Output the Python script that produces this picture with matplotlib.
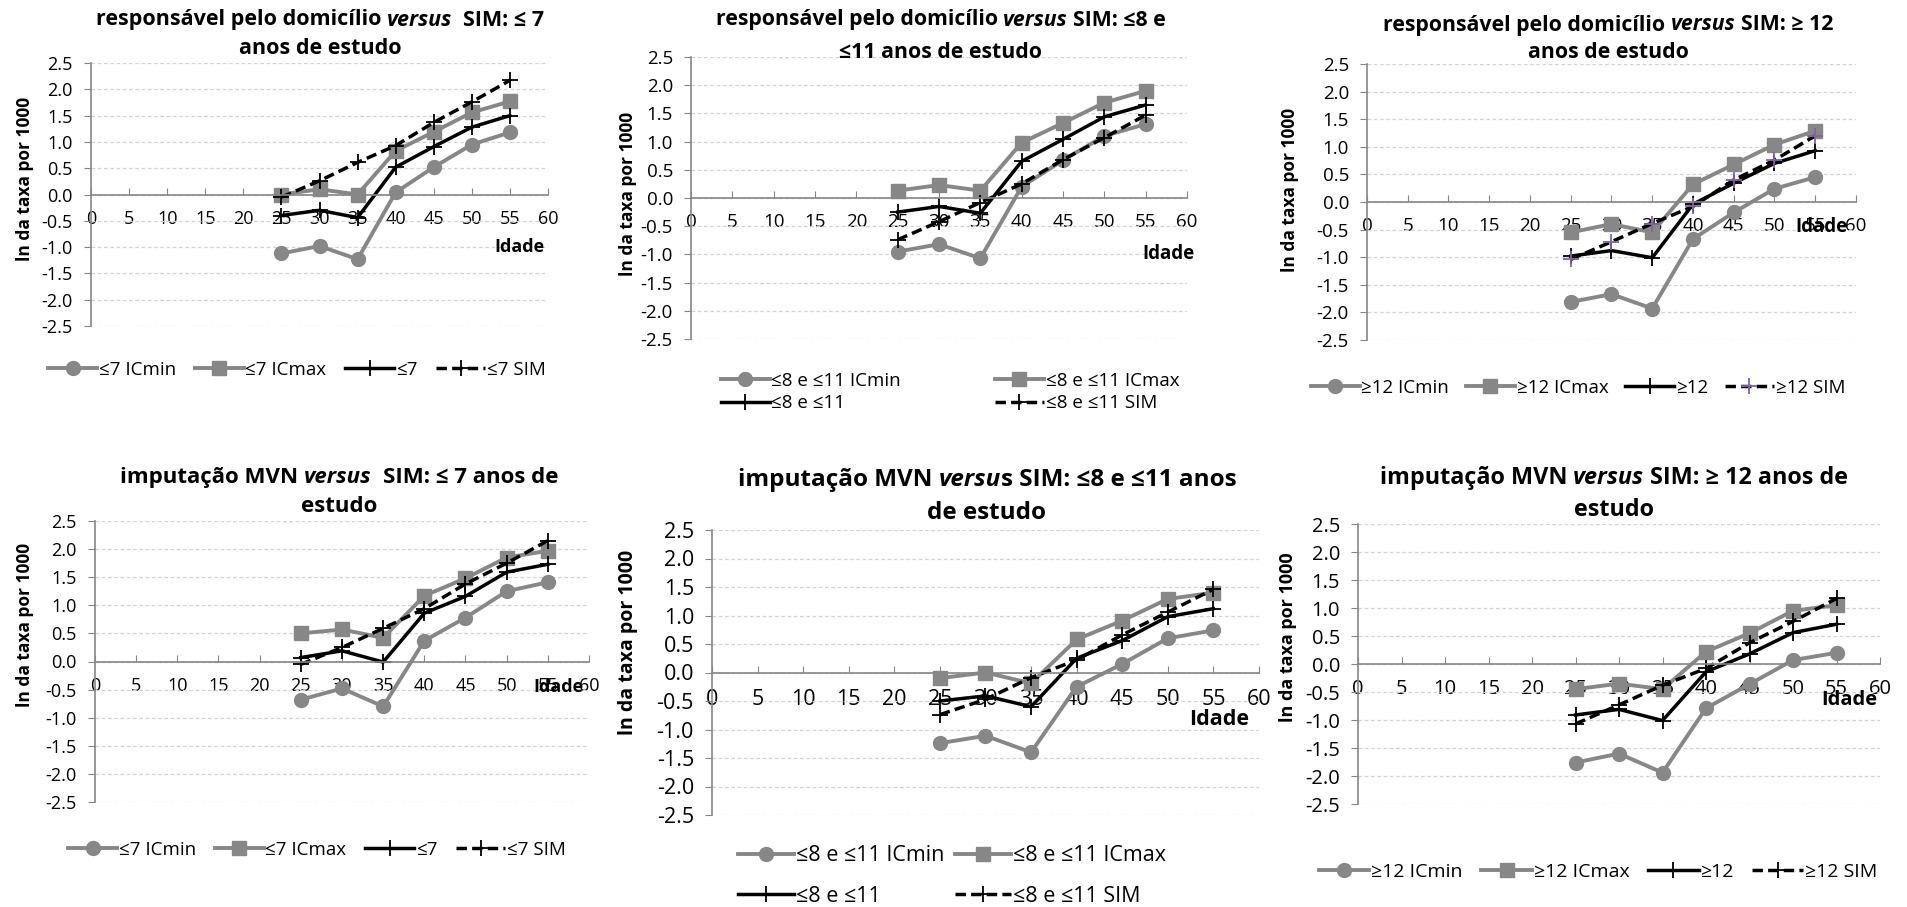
import numpy as np
import matplotlib
matplotlib.use("Agg")
import matplotlib.pyplot as plt
from matplotlib.ticker import FormatStrFormatter

plt.rcParams['font.family'] = ['Open Sans', 'DejaVu Sans']
plt.rcParams['axes.unicode_minus'] = False

W, H = 1908, 907

idade = [25, 30, 35, 40, 45, 50, 55]

# responsável pelo domicílio versus SIM
resp7_min = [-1.12, -0.98, -1.23, 0.04, 0.52, 0.95, 1.18]
resp7_max = [0.00, 0.10, 0.00, 0.83, 1.19, 1.56, 1.77]
resp7_est = [-0.40, -0.30, -0.44, 0.52, 0.91, 1.28, 1.50]
resp7_sim = [-0.05, 0.26, 0.61, 0.93, 1.37, 1.76, 2.17]

resp811_min = [-0.95, -0.82, -1.07, 0.20, 0.67, 1.10, 1.31]
resp811_max = [0.13, 0.23, 0.13, 0.98, 1.33, 1.69, 1.90]
resp811_est = [-0.25, -0.15, -0.27, 0.65, 1.04, 1.44, 1.65]
resp811_sim = [-0.74, -0.42, -0.08, 0.25, 0.68, 1.07, 1.47]

resp12_min = [-1.81, -1.67, -1.93, -0.67, -0.19, 0.24, 0.45]
resp12_max = [-0.55, -0.40, -0.55, 0.32, 0.68, 1.04, 1.29]
resp12_est = [-0.98, -0.88, -1.01, -0.04, 0.34, 0.70, 0.93]
resp12_sim = [-1.04, -0.72, -0.39, -0.08, 0.40, 0.76, 1.20]

# imputação MVN versus SIM
mvn7_min = [-0.68, -0.48, -0.80, 0.37, 0.78, 1.25, 1.41]
mvn7_max = [0.50, 0.57, 0.42, 1.17, 1.48, 1.85, 1.97]
mvn7_est = [0.07, 0.19, -0.01, 0.86, 1.16, 1.59, 1.73]
mvn7_sim = [-0.05, 0.25, 0.59, 0.94, 1.38, 1.75, 2.15]

mvn811_min = [-1.24, -1.11, -1.40, -0.25, 0.15, 0.60, 0.74]
mvn811_max = [-0.10, 0.00, -0.19, 0.58, 0.91, 1.29, 1.40]
mvn811_est = [-0.50, -0.41, -0.60, 0.25, 0.56, 0.98, 1.12]
mvn811_sim = [-0.74, -0.47, -0.09, 0.22, 0.66, 1.06, 1.46]

mvn12_min = [-1.76, -1.60, -1.94, -0.79, -0.36, 0.07, 0.20]
mvn12_max = [-0.45, -0.35, -0.45, 0.22, 0.55, 0.95, 1.05]
mvn12_est = [-0.91, -0.81, -1.01, -0.14, 0.18, 0.56, 0.71]
mvn12_sim = [-1.07, -0.73, -0.38, -0.08, 0.38, 0.76, 1.17]

GRAY = '#878787'
AXC = '#868686'

fig = plt.figure(figsize=(W / 100, H / 100), dpi=100)
renderer = fig.canvas.get_renderer()


def px_axes(x0, x1, y0, y1):
    return fig.add_axes([x0 / W, 1 - y1 / H, (x1 - x0) / W, (y1 - y0) / H])


def text_width(s, size, style):
    t = fig.text(0, 0, s, fontsize=size, fontweight='bold', fontstyle=style)
    w = t.get_window_extent(renderer).width
    t.remove()
    return w


def rich_line(xc, y, parts, size):
    # parts: (texto, itálico, espaços depois)
    sp = text_width('a a', size, 'normal') - text_width('aa', size, 'normal')
    objs, widths = [], []
    for s, ital, gap in parts:
        style = 'italic' if ital else 'normal'
        t = fig.text(0, 1 - y / H, s, fontsize=size, fontweight='bold',
                     fontstyle=style, va='center', ha='left')
        objs.append(t)
        widths.append(t.get_window_extent(renderer).width + gap * sp)
    total = sum(widths) - parts[-1][2] * sp
    x = xc - total / 2
    for t, w in zip(objs, widths):
        t.set_x(x / W)
        x += w


def style_axes(ax, fs, xpad):
    ax.set_xlim(0, 60)
    ax.set_ylim(-2.5, 2.5)
    ax.set_xticks(range(0, 61, 5))
    ax.set_yticks(np.arange(-2.5, 2.51, 0.5))
    ax.yaxis.set_major_formatter(FormatStrFormatter('%.1f'))
    for s in ['top', 'right']:
        ax.spines[s].set_visible(False)
    ax.spines['bottom'].set_position(('data', 0))
    for s in ['bottom', 'left']:
        ax.spines[s].set_color(AXC)
        ax.spines[s].set_linewidth(1.2)
    ax.tick_params(axis='x', direction='in', length=5, pad=xpad,
                   color=AXC, labelsize=fs)
    ax.tick_params(axis='y', direction='out', length=5, pad=8,
                   color=AXC, labelsize=fs)
    ax.yaxis.grid(True, color='#d4d4d4', linestyle=(0, (3, 2)), linewidth=0.9)
    ax.set_axisbelow(True)
    ax.patch.set_alpha(0)


def draw_panel(box, series, labels, title, ylab, idade_pos, leg, fs=13.5,
               xpad=11, sim_color='black'):
    ax = px_axes(*box)
    style_axes(ax, fs, xpad)
    lo, hi, est, sim = series
    h1, = ax.plot(idade, lo, color=GRAY, lw=2.8, marker='o', ms=10)
    h2, = ax.plot(idade, hi, color=GRAY, lw=2.8, marker='s', ms=10)
    h3, = ax.plot(idade, est, color='black', lw=2.5, marker='+', ms=12, mew=1.3)
    h4, = ax.plot(idade, sim, color='black', lw=2.5, ls=(0, (3, 1.5)),
                  marker='+', ms=12, mew=1.3, mec=sim_color)
    ax.text(idade_pos[0], idade_pos[1], 'Idade', fontsize=fs, fontweight='bold',
            ha='center', va='center')

    xc, l1, l2, tsize, parts1, line2 = title
    rich_line(xc, l1, parts1, tsize)
    rich_line(xc, l2, [(line2, False, 0)], tsize)

    yx, yy, ysize = ylab
    fig.text(yx / W, 1 - yy / H, 'ln da taxa por 1000', rotation=90,
             fontsize=ysize, fontweight='bold', ha='center', va='center')

    lx, ly, ncol, lsize, colsp, rowsp = leg
    hs = [h1, h2, h3, h4]
    labs = list(labels)
    if ncol == 2:
        hs = [h1, h3, h2, h4]
        labs = [labels[0], labels[2], labels[1], labels[3]]
    ax.legend(hs, labs, loc='center', bbox_to_anchor=(lx / W, 1 - ly / H),
              bbox_transform=fig.transFigure, ncol=ncol, frameon=False,
              fontsize=lsize, handlelength=2.6, handletextpad=0.1,
              columnspacing=colsp, labelspacing=rowsp, borderpad=0)
    return ax


lab7 = ['≤7 ICmin', '≤7 ICmax', '≤7', '≤7 SIM']
lab811 = ['≤8 e ≤11 ICmin', '≤8 e ≤11 ICmax', '≤8 e ≤11', '≤8 e ≤11 SIM']
lab12 = ['≥12 ICmin', '≥12 ICmax', '≥12', '≥12 SIM']

draw_panel((91, 548, 63, 326), (resp7_min, resp7_max, resp7_est, resp7_sim), lab7,
           (320, 20, 48, 15.5,
            [('responsável pelo domicílio', False, 1), ('versus', True, 2),
             ('SIM: ≤ 7', False, 0)], 'anos de estudo'),
           (25, 179, 12.5), (56.3, -1.0), (297, 370, 4, 13.5, 1.0, 0.5), fs=13)

draw_panel((691, 1187, 57, 339), (resp811_min, resp811_max, resp811_est, resp811_sim),
           lab811,
           (941, 20, 52, 15.3,
            [('responsável pelo domicílio', False, 1), ('versus', True, 1),
             ('SIM: ≤8 e', False, 0)], '≤11 anos de estudo'),
           (628, 194, 12.5), (57.8, -0.99), (950, 392, 2, 13.5, 5.0, 0.25))

draw_panel((1367, 1856, 64, 340), (resp12_min, resp12_max, resp12_est, resp12_sim),
           lab12,
           (1608, 25, 53, 15.3,
            [('responsável pelo domicílio', False, 1), ('versus', True, 1),
             ('SIM: ≥ 12', False, 0)], 'anos de estudo'),
           (1290, 190, 12.5), (55.8, -0.45), (1578, 388, 4, 13.5, 0.9, 0.5),
           sim_color='#8064a2')

draw_panel((95, 589, 521, 802), (mvn7_min, mvn7_max, mvn7_est, mvn7_sim), lab7,
           (339, 478, 507, 16,
            [('imputação MVN', False, 1), ('versus', True, 2),
             ('SIM: ≤ 7 anos de', False, 0)], 'estudo'),
           (25, 625, 12.5), (56.3, -0.45), (317, 850, 4, 13.5, 1.0, 0.5), fs=13)

draw_panel((712, 1259, 530, 815), (mvn811_min, mvn811_max, mvn811_est, mvn811_sim),
           lab811,
           (987, 480, 513, 17.5,
            [('imputação MVN', False, 1), ('versu', True, 0),
             ('s SIM: ≤8 e ≤11 anos', False, 0)], 'de estudo'),
           (628, 642, 14), (55.6, -0.82), (952, 876, 2, 15.5, 0.5, 0.9),
           fs=15.5, xpad=12)

draw_panel((1358, 1880, 524, 804), (mvn12_min, mvn12_max, mvn12_est, mvn12_sim),
           lab12,
           (1614, 478, 510, 16.8,
            [('imputação MVN', False, 1), ('versus', True, 1),
             ('SIM: ≥ 12 anos de', False, 0)], 'estudo'),
           (1288, 637, 13), (56.5, -0.64), (1598, 872, 4, 14, 0.95, 0.5), fs=14.5)

fig.savefig('out.png', dpi=100)
